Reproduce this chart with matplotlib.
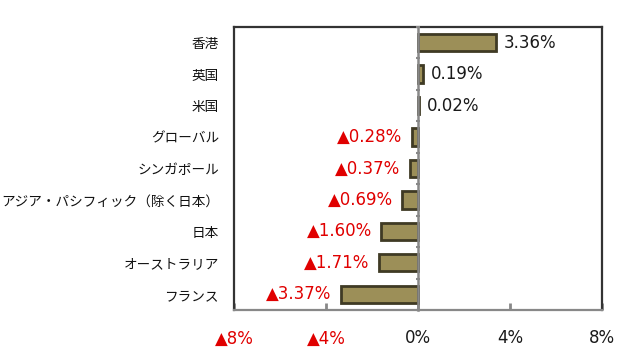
import matplotlib
matplotlib.use("Agg")
import matplotlib.pyplot as plt
import numpy as np

plt.rcParams['font.family'] = ['Noto Sans CJK JP', 'DejaVu Sans']
NUMFONT = ['DejaVu Sans', 'Noto Sans CJK JP']

categories = ["香港", "英国", "米国", "グローバル", "シンガポール",
              "アジア・パシフィック（除く日本）", "日本", "オーストラリア", "フランス"]
values = [3.36, 0.19, 0.02, -0.28, -0.37, -0.69, -1.60, -1.71, -3.37]
xticks = [-8, -4, 0, 4, 8]
xticklabels = ["▲8%", "▲4%", "0%", "4%", "8%"]

fig = plt.figure(figsize=(6.4, 3.63), dpi=100)
ax = fig.add_axes([0.366, 0.146, 0.575, 0.780])

y = np.arange(len(categories))
ax.barh(y, values, height=0.55, color="#9C8F58", edgecolor="#3F3A24", linewidth=2, zorder=3)

ax.set_xlim(-8, 8)
ax.set_ylim(len(categories) - 0.5, -0.5)
ax.set_yticks(y)
ax.set_yticklabels(categories, fontsize=9.8, color="#111111")
ax.tick_params(axis='y', length=0, pad=11)

ax.set_xticks(xticks)
ax.set_xticklabels(xticklabels, fontsize=12, family=NUMFONT)
for lbl, v in zip(ax.get_xticklabels(), xticks):
    lbl.set_color("#E00000" if v < 0 else "#1A1A1A")
ax.tick_params(axis='x', direction='in', length=5, width=2, color="#888888", pad=14)

for side in ['left', 'right', 'top']:
    ax.spines[side].set_color("#333333")
    ax.spines[side].set_linewidth(1.6)
ax.spines['bottom'].set_color("#888888")
ax.spines['bottom'].set_linewidth(1.6)

# zero line with category-boundary ticks
sec = ax.secondary_yaxis(0.5)
for s in sec.spines.values():
    s.set_color("#888888")
    s.set_linewidth(1.8)
sec.spines['right'].set_zorder(5)
sec.set_zorder(5)
sec.set_yticks(np.arange(len(categories) + 1) - 0.5)
sec.set_yticklabels([])
sec.tick_params(axis='y', direction='inout', length=3.5, width=1.5, color="#888888",
                labelleft=False, labelright=False)

for yi, v in zip(y, values):
    if v >= 0:
        ax.annotate(f"{v:.2f}%", (v, yi), xytext=(6, 0), textcoords='offset points',
                    ha='left', va='center', fontsize=12, color="#1A1A1A", family=NUMFONT)
    else:
        ax.annotate(f"▲{abs(v):.2f}%", (v, yi), xytext=(-7, 0), textcoords='offset points',
                    ha='right', va='center', fontsize=12, color="#E00000", family=NUMFONT)

fig.savefig("out.png", dpi=100)
